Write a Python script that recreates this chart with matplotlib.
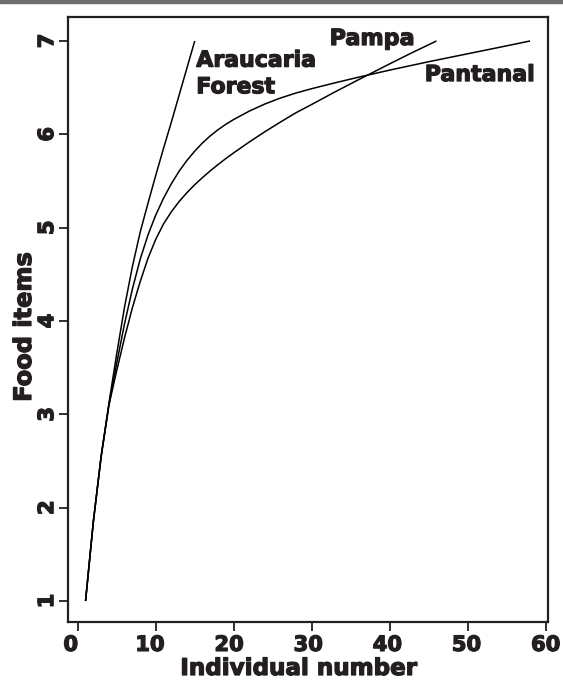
import matplotlib
matplotlib.use("Agg")
import matplotlib.pyplot as plt
from matplotlib import font_manager as fm
from matplotlib import patheffects as pe
from matplotlib.patches import Rectangle
from matplotlib.transforms import ScaledTranslation

# Rarefaction curves (individual number vs food items)
araucaria_x = [1, 2, 3, 4, 5, 6, 7, 8, 9, 10, 11, 12, 13, 14, 15]
araucaria_y = [1.0, 1.85, 2.55, 3.12, 3.65, 4.15, 4.58, 4.95, 5.26, 5.56, 5.85, 6.13, 6.42, 6.71, 7.0]

pantanal_x = [1, 2, 3, 4, 5, 6, 7, 8, 9, 10, 11, 12, 13, 14, 15, 16, 17, 18, 19, 20,
              22, 24, 26, 28, 30, 33, 36, 40, 45, 50, 54, 58]
pantanal_y = [1.0, 1.85, 2.55, 3.1, 3.55, 3.97, 4.34, 4.66, 4.92, 5.135, 5.315, 5.47, 5.605,
              5.72, 5.82, 5.908, 5.984, 6.05, 6.108, 6.159, 6.249, 6.325, 6.389, 6.443, 6.489,
              6.552, 6.612, 6.688, 6.778, 6.863, 6.931, 7.0]

pampa_x = [1, 2, 3, 4, 5, 6, 7, 8, 9, 10, 11, 12, 13, 14, 15, 16, 17, 18, 19, 20,
           22, 24, 26, 28, 30, 33, 36, 40, 43, 46]
pampa_y = [1.0, 1.85, 2.55, 3.1, 3.47, 3.82, 4.14, 4.42, 4.67, 4.875, 5.04, 5.17, 5.28, 5.375,
           5.46, 5.537, 5.609, 5.677, 5.741, 5.802, 5.918, 6.028, 6.132, 6.232, 6.32, 6.455,
           6.585, 6.755, 6.88, 7.0]

x_ticks = [0, 10, 20, 30, 40, 50, 60]
y_ticks = [1, 2, 3, 4, 5, 6, 7]
x_label = 'Individual number'
y_label = 'Food items'

TXT = '#231f20'
FP = fm.FontProperties(family='DejaVu Sans', weight='bold')
HEAVY = [pe.withStroke(linewidth=0.9, foreground=TXT)]

fig = plt.figure(figsize=(5.63, 6.80), dpi=100)
ax = fig.add_axes([68 / 563, 1 - 622 / 680, (548 - 68) / 563, (622 - 17) / 680])

for xs, ys in [(araucaria_x, araucaria_y), (pantanal_x, pantanal_y), (pampa_x, pampa_y)]:
    ax.plot(xs, ys, color='black', lw=1.1, solid_capstyle='butt', solid_joinstyle='round')

ax.set_xlim(-1.25, 60.3)
ax.set_ylim(0.775, 7.257)
ax.set_xticks(x_ticks)
ax.set_yticks(y_ticks)
ax.tick_params(axis='both', direction='out', length=6.5, width=1.3, color=TXT)
ax.tick_params(axis='x', pad=2.8)
ax.tick_params(axis='y', pad=1.3)
for s in ax.spines.values():
    s.set_linewidth(1.6)
    s.set_color(TXT)

renderer = fig.canvas.get_renderer()


def fit(t, target_w, vertical=False, base=16.0):
    fp = FP.copy()
    fp.set_size(base)
    t.set_fontproperties(fp)
    bb = t.get_window_extent(renderer=renderer)
    w = bb.height if vertical else bb.width
    fp2 = FP.copy()
    fp2.set_size(base * target_w / w)
    t.set_fontproperties(fp2)
    t.set_path_effects(HEAVY)
    return fp2.get_size()


probe = fig.text(0, 0, '10')
tick_size = fit(probe, 29.5)
probe.remove()
tfp = FP.copy()
tfp.set_size(tick_size)
ax.set_xticklabels([str(v) for v in x_ticks])
ax.set_yticklabels([str(v) for v in y_ticks])
for lab, v in zip(ax.get_xticklabels(), x_ticks):
    lab.set_fontproperties(tfp)
    lab.set_color(TXT)
    lab.set_path_effects(HEAVY)
    dx = -7.0 * (1 - v / 60.0) / 100.0
    lab.set_transform(lab.get_transform() + ScaledTranslation(dx, 0, fig.dpi_scale_trans))
for lab in ax.get_yticklabels():
    lab.set_fontproperties(tfp)
    lab.set_color(TXT)
    lab.set_path_effects(HEAVY)
    lab.set_rotation(90)
    lab.set_va('center')

t1 = ax.text(15.2, 6.725, 'Araucaria', ha='left', va='baseline', color=TXT)
fit(t1, 120)
t2 = ax.text(15.2, 6.44, 'Forest', ha='left', va='baseline', color=TXT)
t2.set_fontproperties(t1.get_fontproperties())
t2.set_path_effects(HEAVY)
t3 = ax.text(32.3, 6.957, 'Pampa', ha='left', va='baseline', color=TXT)
fit(t3, 85)
t4 = ax.text(44.5, 6.571, 'Pantanal', ha='left', va='baseline', color=TXT)
fit(t4, 110)

xl = fig.text(298 / 563, 1 - 675 / 680, x_label, ha='center', va='baseline', color=TXT)
fit(xl, 237)
yl = fig.text(31 / 563, 1 - 327 / 680, y_label, ha='center', va='baseline', rotation=90,
              rotation_mode='anchor', color=TXT)
fit(yl, 150, vertical=True)

fig.patches.append(Rectangle((0, 1 - 3 / 680), 1, 3 / 680, transform=fig.transFigure,
                             color='#6e6e6e', zorder=0))

fig.savefig('out.png', dpi=100)
